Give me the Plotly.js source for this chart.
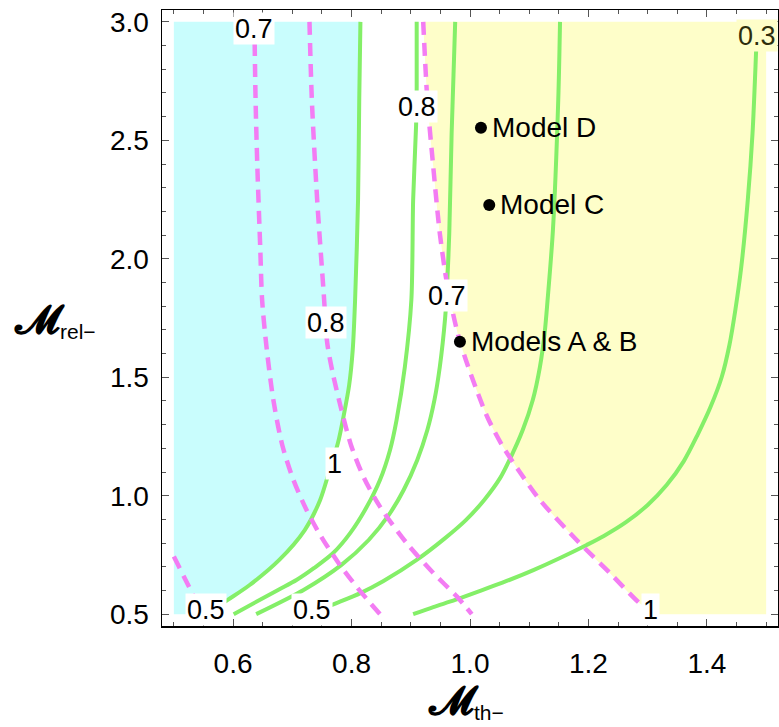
<!DOCTYPE html>
<html>
<head>
<meta charset="utf-8">
<script src="https://cdn.plot.ly/plotly-3.0.1.min.js"></script>
<style>html,body{margin:0;padding:0;background:#fff;}</style>
</head>
<body>
<div id="chart" style="width:779px;height:727px;"></div>
<script>
// ---- Data ----
// Green solid contours (values 1, 0.8, 0.7, 0.5, 0.3)
const greenLevels = ["1", "0.8", "0.7", "0.5", "0.3"];
const g1X = [0.815, 0.813, 0.811, 0.806, 0.802, 0.796, 0.787, 0.777, 0.763, 0.747, 0.721, 0.678, 0.628, 0.591, 0.555];
const g1Y = [3.0, 2.670, 2.248, 1.826, 1.615, 1.467, 1.341, 1.222, 1.108, 0.982, 0.855, 0.729, 0.623, 0.560, 0.5];
const g2X = [0.910, 0.910, 0.909, 0.904, 0.901, 0.890, 0.876, 0.865, 0.848, 0.826, 0.798, 0.769, 0.737, 0.707, 0.676, 0.601];
const g2Y = [3.0, 2.724, 2.564, 2.248, 1.826, 1.543, 1.319, 1.193, 1.066, 0.954, 0.843, 0.758, 0.695, 0.644, 0.602, 0.5];
const g3X = [0.975, 0.969, 0.965, 0.961, 0.958, 0.949, 0.940, 0.928, 0.911, 0.888, 0.863, 0.829, 0.783, 0.719, 0.639];
const g3Y = [3.0, 2.530, 2.108, 1.868, 1.750, 1.543, 1.404, 1.277, 1.151, 1.024, 0.919, 0.813, 0.708, 0.602, 0.5];
const g4X = [1.152, 1.149, 1.140, 1.131, 1.126, 1.118, 1.106, 1.089, 1.069, 1.051, 1.024, 0.993, 0.958, 0.910, 0.854, 0.815, 0.767, 0.730];
const g4Y = [3.0, 2.670, 2.121, 1.826, 1.686, 1.543, 1.404, 1.277, 1.163, 1.075, 0.982, 0.897, 0.821, 0.729, 0.640, 0.589, 0.539, 0.5];
const g5X = [1.485, 1.483, 1.477, 1.469, 1.458, 1.448, 1.438, 1.425, 1.406, 1.384, 1.361, 1.332, 1.300, 1.264, 1.226, 1.197, 1.152, 1.107, 1.062, 1.017, 0.975, 0.938, 0.904];
const g5Y = [3.0, 2.873, 2.530, 2.248, 1.966, 1.784, 1.636, 1.501, 1.374, 1.256, 1.146, 1.045, 0.961, 0.889, 0.830, 0.792, 0.737, 0.686, 0.640, 0.598, 0.560, 0.530, 0.5];

// Magenta dashed contours (values 0.5, 0.7, 0.8, 1)
const magentaLevels = ["0.5", "0.7", "0.8", "1"];
const m0X = [0.5, 0.531, 0.548];
const m0Y = [0.743, 0.588, 0.5];
const m1X = [0.636, 0.638, 0.641, 0.646, 0.649, 0.657, 0.668, 0.683, 0.702, 0.724, 0.749, 0.778, 0.810, 0.848];
const m1Y = [3.0, 2.670, 2.387, 2.037, 1.826, 1.615, 1.404, 1.214, 1.066, 0.940, 0.826, 0.716, 0.611, 0.5];
const m2X = [0.729, 0.733, 0.742, 0.753, 0.759, 0.769, 0.783, 0.799, 0.821, 0.848, 0.893, 0.938, 0.978, 1.003];
const m2Y = [3.0, 2.670, 2.248, 1.855, 1.644, 1.509, 1.362, 1.214, 1.075, 0.954, 0.800, 0.674, 0.574, 0.5];
const m3X = [0.921, 0.928, 0.938, 0.949, 0.961, 0.970, 0.980, 0.993, 1.010, 1.030, 1.054, 1.084, 1.118, 1.180, 1.236, 1.286, 1.312];
const m3Y = [3.0, 2.670, 2.387, 2.108, 1.897, 1.784, 1.678, 1.573, 1.454, 1.328, 1.214, 1.100, 0.982, 0.813, 0.674, 0.547, 0.5];

// Models
const modelNames = ["Model D", "Model C", "Models A & B"];
const modelX = [1.0185, 1.0325, 0.983];
const modelY = [2.553, 2.227, 1.650];

// Contour label texts and where they sit on their curves
const labelTexts = ["1", "0.8", "0.7", "0.5", "0.3", "0.5", "0.7", "0.8", "1"];
const labelX = [0.771, 0.910, 0.961, 0.733, 1.484, 0.554, 0.636, 0.757, 1.305];
const labelY = [1.137, 2.644, 1.843, 0.521, 2.941, 0.521, 2.973, 1.733, 0.521];

// Plot extents
const xMin = 0.5, xMax = 1.5, yMin = 0.5, yMax = 3.0;

// ---- Styles ----
const GREEN = '#84ef68';
const MAGENTA = '#f37cf3';
const CYAN = '#c9fdfd';
const YELLOW = '#fefec9';
const FONT = 'Liberation Sans, Arial, Helvetica, sans-serif';
const SMOOTH = 0.8;

const traces = [];
// Cyan region: between the left edge x = 0.5 and the "1" green contour
traces.push({
  x: [xMin, xMin], y: [yMax, yMin], mode: 'lines',
  line: {width: 0, color: CYAN}, hoverinfo: 'skip'
});
traces.push({
  x: g1X, y: g1Y, mode: 'lines', fill: 'tonextx', fillcolor: CYAN,
  line: {width: 0, color: CYAN, shape: 'spline', smoothing: SMOOTH}, hoverinfo: 'skip'
});
// Yellow region: between the "1" magenta contour and the right edge x = 1.5
traces.push({
  x: [xMax, xMax], y: [yMax, yMin], mode: 'lines',
  line: {width: 0, color: YELLOW}, hoverinfo: 'skip'
});
traces.push({
  x: m3X, y: m3Y, mode: 'lines', fill: 'tonextx', fillcolor: YELLOW,
  line: {width: 0, color: YELLOW, shape: 'spline', smoothing: SMOOTH}, hoverinfo: 'skip'
});
[[g1X, g1Y], [g2X, g2Y], [g3X, g3Y], [g4X, g4Y], [g5X, g5Y]].forEach(function (c, i) {
  traces.push({x: c[0], y: c[1], mode: 'lines', name: 'green ' + greenLevels[i],
    line: {color: GREEN, width: 4, shape: 'spline', smoothing: SMOOTH}});
});
[[m0X, m0Y], [m1X, m1Y], [m2X, m2Y], [m3X, m3Y]].forEach(function (c, i) {
  traces.push({x: c[0], y: c[1], mode: 'lines', name: 'magenta ' + magentaLevels[i],
    line: {color: MAGENTA, width: 4.5, dash: '13px,8px', shape: 'spline', smoothing: SMOOTH}});
});
traces.push({x: modelX, y: modelY, mode: 'markers',
  marker: {color: '#000', size: 12}, hoverinfo: 'text', text: modelNames});

const annotations = [];
labelTexts.forEach(function (t, i) {
  const isYellow = (i === 4);
  annotations.push({
    x: labelX[i], y: labelY[i], xref: 'x', yref: 'y', text: t, showarrow: false,
    font: {family: FONT, size: 27, color: isYellow ? '#2e2e0c' : '#000'},
    bgcolor: isYellow ? YELLOW : '#ffffff', borderpad: 1, height: 29, valign: 'middle'
  });
});
modelNames.forEach(function (t, i) {
  annotations.push({
    x: modelX[i], y: modelY[i], xref: 'x', yref: 'y', text: t, showarrow: false,
    xanchor: 'left', xshift: 9, yshift: 0,
    font: {family: FONT, size: 28, color: '#000'}
  });
});
// Axis titles (horizontal, as in the reference)
const scriptM = '<span style="font-family:DejaVu Serif;font-size:40px;font-weight:bold">𝓜</span>';
annotations.push({
  xref: 'paper', yref: 'paper', x: 0.493, y: -0.12, xanchor: 'center', yanchor: 'middle',
  text: scriptM + '<sub>th−</sub>', showarrow: false,
  font: {family: FONT, size: 30, color: '#000'}
});
annotations.push({
  xref: 'paper', yref: 'paper', x: -0.174, y: 0.498, xanchor: 'center', yanchor: 'middle',
  text: scriptM + '<sub>rel−</sub>', showarrow: false,
  font: {family: FONT, size: 30, color: '#000'}
});

const axisCommon = {
  showline: true, mirror: 'allticks', linecolor: '#000', linewidth: 1.5,
  ticks: 'inside', ticklen: 7, tickwidth: 1, tickcolor: '#555',
  showgrid: false, zeroline: false, tickformat: '.1f',
  tickfont: {family: FONT, size: 28, color: '#000'}
};

const layout = {
  width: 779, height: 727,
  margin: {l: 162, r: 1, t: 10, b: 101},
  paper_bgcolor: '#fff', plot_bgcolor: '#fff',
  showlegend: false,
  xaxis: Object.assign({}, axisCommon, {
    range: [0.48, 1.52], tick0: 0.6, dtick: 0.2, ticklabelstandoff: 12,
    minor: {tick0: 0.5, dtick: 0.05, ticks: 'inside', ticklen: 4, tickcolor: '#555', showgrid: false}
  }),
  yaxis: Object.assign({}, axisCommon, {
    range: [0.45, 3.05], tick0: 0.5, dtick: 0.5, ticklabelstandoff: 6,
    minor: {tick0: 0.5, dtick: 0.1, ticks: 'inside', ticklen: 4, tickcolor: '#555', showgrid: false}
  }),
  annotations: annotations
};

Plotly.newPlot('chart', traces, layout, {displayModeBar: false, staticPlot: true});
</script>
</body>
</html>
